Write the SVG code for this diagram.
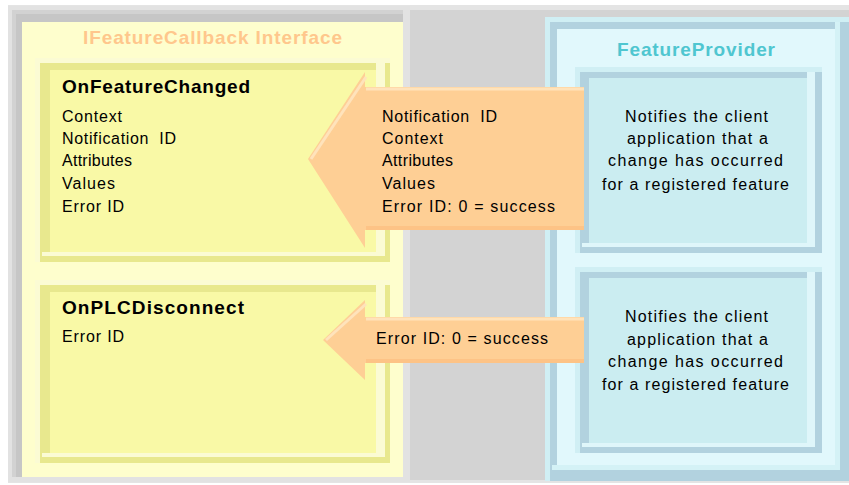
<svg xmlns="http://www.w3.org/2000/svg" width="849" height="485" viewBox="0 0 849 485">
  <style>
    .bold { font-family: "Liberation Sans", Arial, sans-serif; font-weight: bold; font-size: 19px; }
    .txt { font-family: "Liberation Sans", Arial, sans-serif; font-size: 16px; fill: #000; }
    .ytitle { fill: #ffc78c; }
    .ctitle { fill: #4fc6d0; }
    .y-pale { fill: #fbfbd4; }
    .y-dark { fill: #e8e88e; }
    .y-fill { fill: #f9f9a6; }
    .c-pale { fill: #d0eff4; }
    .c-dark { fill: #b2d2df; }
    .c-fill { fill: #cbedf1; }
    .arrow { fill: #fecf95; }
    .hi { fill: none; stroke: #ffe3bb; stroke-width: 3; }
    .lo { fill: none; stroke: #fdc386; stroke-width: 4; }
  </style>

  <!-- backdrop -->
  <g id="backdrop">
    <rect x="0" y="0" width="849" height="485" fill="#ffffff"/>
    <rect x="8" y="5" width="841" height="478" fill="#e4e4e4"/>
    <rect x="8" y="10" width="841" height="470" fill="#d3d3d3"/>
  </g>

  <!-- IFeatureCallback Interface panel -->
  <g id="callback-interface">
    <rect x="8" y="6" width="402" height="476" fill="#e2e2e2"/>
    <rect x="12" y="10" width="391" height="467" fill="#d2d2d2"/>
    <rect x="16" y="14" width="387" height="463" fill="#c6c6c6"/>
    <rect x="22" y="22" width="381" height="455" fill="#fefecd"/>
    <text class="bold ytitle" x="212.5" y="44" text-anchor="middle" textLength="259" lengthAdjust="spacing">IFeatureCallback Interface</text>

    <g id="on-feature-changed">
      <rect class="y-pale" x="35" y="58" width="355" height="204"/>
      <rect class="y-dark" x="40" y="63" width="350" height="199"/>
      <rect class="y-pale" x="42" y="63" width="343" height="193"/>
      <rect class="y-dark" x="42" y="63" width="334" height="189"/>
      <rect class="y-fill" x="50" y="70" width="326" height="182"/>
      <text class="bold" x="62" y="93" textLength="188" lengthAdjust="spacing">OnFeatureChanged</text>
      <text class="txt" x="62" y="122" textLength="60" lengthAdjust="spacing">Context</text>
      <text class="txt" x="62" y="144" textLength="114" lengthAdjust="spacing" xml:space="preserve">Notification  ID</text>
      <text class="txt" x="62" y="166" textLength="70" lengthAdjust="spacing">Attributes</text>
      <text class="txt" x="62" y="189" textLength="53" lengthAdjust="spacing">Values</text>
      <text class="txt" x="62" y="212" textLength="62" lengthAdjust="spacing">Error ID</text>
    </g>

    <g id="on-plc-disconnect">
      <rect class="y-pale" x="35" y="280" width="355" height="183"/>
      <rect class="y-dark" x="40" y="285" width="350" height="178"/>
      <rect class="y-pale" x="42" y="285" width="343" height="172"/>
      <rect class="y-dark" x="42" y="285" width="334" height="168"/>
      <rect class="y-fill" x="50" y="292" width="326" height="161"/>
      <text class="bold" x="62" y="314" textLength="182" lengthAdjust="spacing">OnPLCDisconnect</text>
      <text class="txt" x="62" y="342" textLength="62" lengthAdjust="spacing">Error ID</text>
    </g>
  </g>

  <!-- FeatureProvider panel -->
  <g id="feature-provider">
    <rect class="c-pale" x="545" y="17" width="304" height="464"/>
    <rect class="c-dark" x="550" y="22" width="299" height="459"/>
    <rect x="552" y="22" width="288" height="448" fill="#d4f2f6"/>
    <rect class="c-dark" x="552" y="22" width="283" height="443"/>
    <rect x="557" y="29" width="278" height="436" fill="#e1f8fc"/>
    <text class="bold ctitle" x="696" y="56" text-anchor="middle" textLength="158" lengthAdjust="spacing">FeatureProvider</text>

    <g id="notify-changed">
      <rect class="c-pale" x="575" y="67" width="247" height="186"/>
      <rect class="c-dark" x="580" y="72" width="242" height="181"/>
      <rect x="582" y="72" width="233" height="175" fill="#dff6fa"/>
      <rect class="c-dark" x="582" y="72" width="225" height="171"/>
      <rect class="c-fill" x="589" y="78" width="218" height="165"/>
      <text class="txt" x="696.5" y="122" text-anchor="middle" textLength="143" lengthAdjust="spacing">Notifies the client</text>
      <text class="txt" x="697.5" y="144" text-anchor="middle" textLength="141" lengthAdjust="spacing">application that a</text>
      <text class="txt" x="695.5" y="166" text-anchor="middle" textLength="175" lengthAdjust="spacing">change has occurred</text>
      <text class="txt" x="695.5" y="190" text-anchor="middle" textLength="187" lengthAdjust="spacing">for a registered feature</text>
    </g>

    <g id="notify-disconnect">
      <rect class="c-pale" x="575" y="267" width="247" height="186"/>
      <rect class="c-dark" x="580" y="272" width="242" height="181"/>
      <rect x="582" y="272" width="233" height="175" fill="#dff6fa"/>
      <rect class="c-dark" x="582" y="272" width="225" height="171"/>
      <rect class="c-fill" x="589" y="278" width="218" height="165"/>
      <text class="txt" x="696.5" y="322" text-anchor="middle" textLength="143" lengthAdjust="spacing">Notifies the client</text>
      <text class="txt" x="697.5" y="345" text-anchor="middle" textLength="141" lengthAdjust="spacing">application that a</text>
      <text class="txt" x="695.5" y="367" text-anchor="middle" textLength="175" lengthAdjust="spacing">change has occurred</text>
      <text class="txt" x="695.5" y="390" text-anchor="middle" textLength="187" lengthAdjust="spacing">for a registered feature</text>
    </g>
  </g>

  <!-- block arrows carrying the callback parameters -->
  <g id="connectors">
    <g id="arrow-feature-changed">
      <polygon class="arrow" points="584,87 365,87 365,72 308,159 365,248 365,230 584,230"/>
      <path class="hi" d="M366,77 L311,159"/>
      <path class="hi" d="M366,89 H584"/>
      <path class="lo" d="M366,228 H584"/>
      <text class="txt" x="382" y="122" textLength="115" lengthAdjust="spacing" xml:space="preserve">Notification  ID</text>
      <text class="txt" x="382" y="144" textLength="61" lengthAdjust="spacing">Context</text>
      <text class="txt" x="382" y="166" textLength="71" lengthAdjust="spacing">Attributes</text>
      <text class="txt" x="382" y="189" textLength="53" lengthAdjust="spacing">Values</text>
      <text class="txt" x="382" y="212" textLength="173" lengthAdjust="spacing">Error ID: 0 = success</text>
    </g>
    <g id="arrow-plc-disconnect">
      <polygon class="arrow" points="584,317 365,317 365,300 323,340 365,380 365,363 584,363"/>
      <path class="hi" d="M366,304 L326,340"/>
      <path class="hi" d="M366,319 H584"/>
      <path class="lo" d="M366,361 H584"/>
      <text class="txt" x="376" y="344" textLength="172" lengthAdjust="spacing">Error ID: 0 = success</text>
    </g>
  </g>
</svg>
